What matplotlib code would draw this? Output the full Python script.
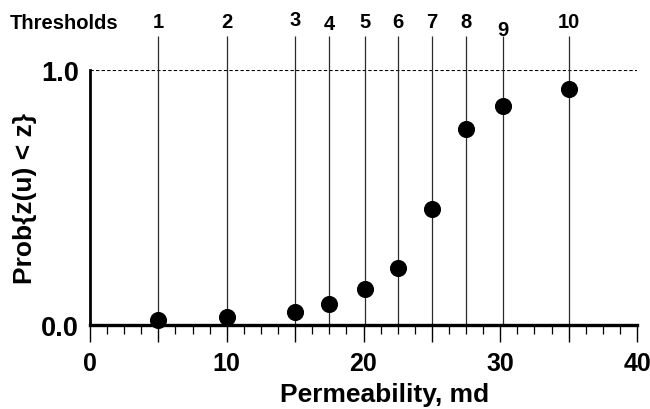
import matplotlib
matplotlib.use("Agg")
import matplotlib.pyplot as plt
from matplotlib.ticker import MultipleLocator, FuncFormatter

plt.rcParams['font.family'] = ['Liberation Sans', 'DejaVu Sans']
plt.rcParams['font.weight'] = 'bold'

# data
thresholds = [5, 10, 15, 17.5, 20.1, 22.5, 25, 27.5, 30.2, 35]
threshold_labels = ['1', '2', '3', '4', '5', '6', '7', '8', '9', '10']
cdf_values = [0.021, 0.030, 0.050, 0.081, 0.141, 0.224, 0.455, 0.768, 0.859, 0.927]
x_ticklabels = ['0', '10', '20', '30', '40']
y_ticklabels = ['0.0', '1.0']

# style: small vertical offsets (pixels) of the threshold number labels
label_dy_px = [0, 0, 2, -2, 0, 0, 0, 0, -8, 0]

W, H = 650, 410
fig = plt.figure(figsize=(W / 100, H / 100), dpi=100)
x0, x1, y0, y1 = 90, 637, 326, 71.3
ax = fig.add_axes([x0 / W, (H - y0) / H, (x1 - x0) / W, (y0 - y1) / H])
ax.set_xlim(0, 40)
ax.set_ylim(0, 1)
ppu = (y0 - y1)  # pixels per y unit

# threshold lines
ax.vlines(thresholds, 0, 1.135, colors='#2a2a2a', linewidth=0.9, clip_on=False, zorder=2)
for xv, lab, dy in zip(thresholds, threshold_labels, label_dy_px):
    ax.text(xv, 1.19 + dy / ppu, lab, ha='center', va='center', fontsize=14.5,
            fontweight='bold', clip_on=False)
fig.text(10 / W, (H - 23.5) / H, 'Thresholds', ha='left', va='center',
         fontsize=14.5, fontweight='bold')

# dashed line at 1.0
ax.axhline(1.0, color='black', linewidth=0.8, linestyle=(0, (3, 2)), zorder=1)

# points
ax.plot(thresholds, cdf_values, 'o', color='black', markersize=11.3,
        clip_on=False, zorder=4)

# spines
for s in ['top', 'right']:
    ax.spines[s].set_visible(False)
ax.spines['left'].set_linewidth(2.0)
ax.spines['bottom'].set_linewidth(2.4)
ax.spines['bottom'].set_zorder(5)

# ticks
ax.xaxis.set_major_locator(MultipleLocator(5))
ax.xaxis.set_minor_locator(MultipleLocator(1.25))
ax.xaxis.set_major_formatter(FuncFormatter(
    lambda v, p: x_ticklabels[int(round(v / 10))] if abs(v % 10) < 1e-6 else ''))
ax.tick_params(axis='x', which='major', direction='out', length=12, width=1.0,
               labelsize=18, pad=7)
ax.tick_params(axis='x', which='minor', direction='out', length=6.5, width=0.9)
ax.set_yticks([0, 1])
ax.set_yticklabels(y_ticklabels)
ax.tick_params(axis='y', which='both', length=0, labelsize=19.5, pad=8)
for lab in ax.get_xticklabels() + ax.get_yticklabels():
    lab.set_fontweight('bold')

ax.set_xlabel('Permeability, md', fontsize=19, fontweight='bold', va='baseline')
ax.xaxis.set_label_coords((384.5 - x0) / (x1 - x0), (y0 - 401.7) / ppu)
ax.set_ylabel('Prob{z(u) < z}', fontsize=19, fontweight='bold', va='center')
ax.yaxis.set_label_coords((25.5 - x0) / (x1 - x0), 0.5)

fig.savefig('out.png', dpi=100)
